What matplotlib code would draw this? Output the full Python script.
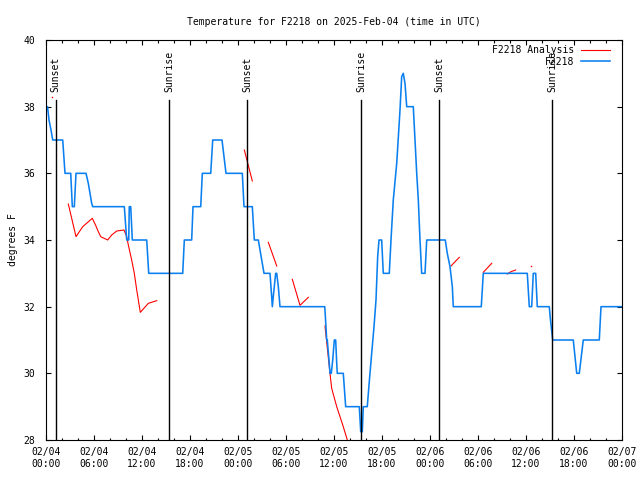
import matplotlib
matplotlib.use('Agg')
import matplotlib.pyplot as plt
import numpy as np

# hours since 2025-02-04 00:00 UTC
station_hours = [0.06, 0.19, 0.375, 0.625, 0.84, 2.09, 2.375, 3.09, 3.29, 3.54, 3.75, 5.0,
                 5.29, 5.5, 5.71, 5.84, 9.79, 10.09, 10.34, 10.41, 10.59, 10.79, 12.59, 12.84,
                 17.09, 17.29, 18.21, 18.375, 19.34, 19.54, 20.59, 20.84, 22.0, 22.5, 24.54,
                 24.75, 25.79, 26.04, 26.54, 27.25, 28.0, 28.21, 28.29, 28.41, 28.71, 28.84,
                 29.04, 29.25, 34.84, 34.91, 35.09, 35.16, 35.375, 35.5, 35.66, 35.84, 36.04,
                 36.21, 36.34, 36.41, 37.16, 37.46, 39.16, 39.34, 39.54, 39.66, 40.16, 40.41,
                 40.71, 41.0, 41.25, 41.46, 41.625, 41.96, 42.16, 42.91, 43.125, 43.41, 43.84,
                 44.25, 44.46, 44.66, 44.875, 45.09, 45.91, 46.125, 46.34, 46.54, 46.75, 46.96,
                 47.375, 47.59, 49.91, 50.16, 50.5, 50.79, 50.91, 54.41, 54.66, 60.16, 60.41,
                 60.71, 60.91, 61.21, 61.41, 62.91, 63.06, 63.34, 65.91, 66.34, 66.66, 67.16,
                 69.16, 69.375, 72.0]
station_temps = [38, 38, 37.6, 37.3, 37, 37, 36, 36, 35, 35, 36, 36,
                 35.7, 35.4, 35.1, 35, 35, 34, 34, 35, 35, 34, 34, 33,
                 33, 34, 34, 35, 35, 36, 36, 37, 37, 36, 36,
                 35, 35, 34, 34, 33, 33, 32.3, 32, 32.3, 33, 33,
                 32.6, 32, 32, 31.75, 31, 31, 30.4, 30, 30, 30.4, 31,
                 31, 30.3, 30, 30, 29, 29, 28.25, 28.25, 29, 29, 29.75,
                 30.6, 31.4, 32.2, 33.5, 34, 34, 33, 33, 34, 35.2, 36.3,
                 37.9, 38.9, 39.0, 38.7, 38.0, 38.0, 37, 36, 35.2, 34, 33,
                 33, 34, 34, 33.6, 33.2, 32.6, 32, 32, 33, 33, 32,
                 32, 33, 33, 32, 32, 31.6, 31, 31, 30, 30, 31,
                 31, 32, 32]

# analysis segments, separated by nan
analysis_hours = [2.79, 3.75, 4.59, 5.79, 6.19, 6.54, 6.84, 7.71, 8.21, 8.84, 9.75, 10.09,
                  10.29, 10.71, 11.04, 11.34, 11.79, 12.79, 13.84, np.nan,
                  24.79, 25.79, np.nan,
                  27.79, 28.84, np.nan,
                  30.79, 31.75, 32.79, np.nan,
                  34.875, 35.5, 35.71, 36.34, 37.16, 37.79, np.nan,
                  50.625, 51.66, np.nan,
                  54.66, 55.71, np.nan,
                  57.66, 58.125, 58.71]
analysis_temps = [35.08, 34.1, 34.4, 34.65, 34.45, 34.25, 34.1, 34.0, 34.15, 34.27, 34.3, 34.1,
                  33.85, 33.4, 33.0, 32.5, 31.83, 32.1, 32.18, np.nan,
                  36.7, 35.77, np.nan,
                  33.93, 33.22, np.nan,
                  32.82, 32.04, 32.28, np.nan,
                  31.42, 30.0, 29.55, 29.0, 28.4, 27.9, np.nan,
                  33.22, 33.48, np.nan,
                  33.03, 33.3, np.nan,
                  32.98, 33.05, 33.1]
analysis_dot_hours = [0.79, 60.66]
analysis_dot_temps = [38.3, 33.22]

sun_labels = ['Sunset', 'Sunrise', 'Sunset', 'Sunrise', 'Sunset', 'Sunrise']
sun_hours = [1.2, 15.4, 25.15, 39.4, 49.15, 63.3]

tick_hours = list(range(0, 73, 6))
tick_labels = ['02/04\n00:00', '02/04\n06:00', '02/04\n12:00', '02/04\n18:00',
               '02/05\n00:00', '02/05\n06:00', '02/05\n12:00', '02/05\n18:00',
               '02/06\n00:00', '02/06\n06:00', '02/06\n12:00', '02/06\n18:00',
               '02/07\n00:00']

plt.rcParams['font.family'] = ['DejaVu Sans Mono']
plt.rcParams['font.size'] = 7

fig = plt.figure(figsize=(6.4, 4.8), dpi=100)
ax = fig.add_axes([46 / 640, 40 / 480, 576 / 640, 400 / 480])

red = '#ff0000'
blue = '#0a80f0'

ax.plot(analysis_hours, analysis_temps, color=red, lw=0.8, label='F2218 Analysis')
ax.plot(analysis_dot_hours, analysis_dot_temps, ls='none', marker='s', ms=1, color=red, mew=0)
ax.plot(station_hours, station_temps, color=blue, lw=1.15, label='F2218')

for h, name in zip(sun_hours, sun_labels):
    ax.plot([h, h], [28, 38.2], color='black', lw=1.0)
    ax.text(h, 38.44, name, rotation=90, ha='center', va='bottom', fontsize=7)

ax.set_xlim(0, 72)
ax.set_ylim(28, 40)
ax.set_xticks(tick_hours)
ax.set_xticklabels(tick_labels, linespacing=1.3)
ax.set_xticks(np.arange(0, 73, 2), minor=True)
ax.set_yticks(np.arange(28, 41, 2))
ax.tick_params(which='both', direction='in', top=True, right=True, width=0.8)
ax.tick_params(which='major', length=3.5)
ax.tick_params(which='minor', length=1.8)
ax.tick_params(axis='x', which='major', pad=5)
ax.tick_params(axis='y', which='major', pad=8)
for s in ax.spines.values():
    s.set_linewidth(0.8)

ax.set_ylabel('degrees F', labelpad=4)
ax.set_title('Temperature for F2218 on 2025-Feb-04 (time in UTC)', pad=11, fontsize=7)

ax.legend(loc='upper right', bbox_to_anchor=(0.988, 0.999), frameon=False, markerfirst=False,
          handlelength=3.0, handletextpad=0.7, borderpad=0, labelspacing=0.15)

fig.savefig('out.png', dpi=100)
